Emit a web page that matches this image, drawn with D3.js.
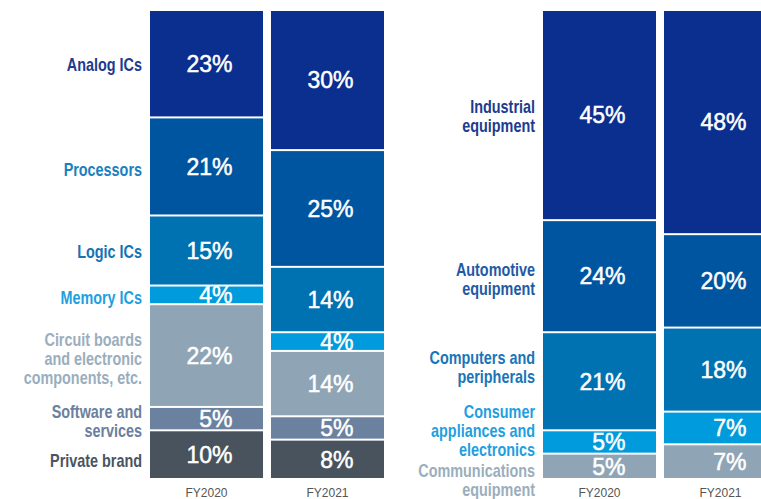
<!DOCTYPE html>
<html>
<head>
<meta charset="utf-8">
<script src="https://cdn.jsdelivr.net/npm/d3@7"></script>
<style>
    body { margin: 0; background: #fff; }
    svg { display: block; }
</style>
</head>
<body>
<svg id="chart" width="761" height="499"></svg>
<script>
// years on the x axis
var years = ["FY2020", "FY2021"];

// left chart: by product (top to bottom)
var productNames = ["Analog ICs", "Processors", "Logic ICs", "Memory ICs",
    "Circuit boards\nand electronic\ncomponents, etc.", "Software and\nservices", "Private brand"];
var productFY2020 = [23, 21, 15, 4, 22, 5, 10];
var productFY2021 = [30, 25, 14, 4, 14, 5, 8];

// right chart: by application (top to bottom)
var marketNames = ["Industrial\nequipment", "Automotive\nequipment", "Computers and\nperipherals",
    "Consumer\nappliances and\nelectronics", "Communications\nequipment"];
var marketFY2020 = [45, 24, 21, 5, 5];
var marketFY2021 = [48, 20, 18, 7, 7];

// colours
var productFill = ["#0b2f8e", "#0055a0", "#0072b2", "#009bdc", "#8fa5b6", "#6a81a0", "#48535e"];
var productText = ["#1d3b8f", "#1b7fc1", "#1673b5", "#1f9fe0", "#9aaebd", "#6b809e", "#4b555f"];
var marketFill = ["#0b2f8e", "#0055a0", "#0072b2", "#009bdc", "#8fa5b6"];
var marketText = ["#1d3b8f", "#1f5aa5", "#1a75b8", "#1f9fe0", "#9aaebd"];

// small vertical tweaks of the side labels so they do not collide (px)
var productNudge = [0, 2, 0, 2, 2, 1, 6];
var marketNudge = [0, 2, -15, -12, 14];

var svg = d3.select("#chart");
var plotTop = 11, plotBottom = 478;
var y = d3.scaleLinear().domain([0, 100]).range([plotBottom, plotTop]);

function drawPanel(id, names, v2020, v2021, fills, textCols, nudge, x0, x1, labelX) {
    var x = d3.scaleBand().domain(years).range([x0, x1]).paddingInner(0.066).paddingOuter(0);
    var g = svg.append("g").attr("class", id);

    // clip so the text of the lowest block does not spill under the bars
    g.append("clipPath").attr("id", "clip-" + id)
        .append("rect").attr("x", x0).attr("y", plotTop).attr("width", x1 - x0).attr("height", plotBottom - plotTop);

    // rows: one object per year, keys = category index
    var keys = names.map(function (d, i) { return "k" + i; });
    var rows = years.map(function (yr, j) {
        var r = {year: yr};
        var vals = j === 0 ? v2020 : v2021;
        keys.forEach(function (k, i) { r[k] = vals[i]; });
        return r;
    });
    // first category on top -> stack in reversed key order
    var series = d3.stack().keys(keys.slice().reverse())(rows);
    series.reverse();

    var bars = g.append("g").attr("clip-path", "url(#clip-" + id + ")");
    years.forEach(function (yr, j) {
        series.forEach(function (s, i) {
            var d = s[j];
            var yTop = y(d[1]), yBot = y(d[0]);
            var gap = i === series.length - 1 ? 0 : 2;
            bars.append("rect")
                .attr("x", x(yr))
                .attr("y", yTop)
                .attr("width", x.bandwidth())
                .attr("height", Math.max(0, yBot - yTop - gap))
                .attr("fill", fills[i]);
            bars.append("text")
                .attr("x", x(yr) + x.bandwidth() * 0.73)
                .attr("y", (yTop + yBot - gap) / 2)
                .attr("dy", "0.36em")
                .attr("text-anchor", "end")
                .attr("fill", "#fff")
                .attr("stroke", "#fff")
                .attr("stroke-width", 0.5)
                .style("font-family", "'Liberation Sans', Arial, sans-serif")
                .style("font-size", "23px")
                .text(d.data[s.key] + "%");
        });
    });

    // category labels, aligned on the FY2020 bar; squeezed to look condensed
    series.forEach(function (s, i) {
        var d = s[0];
        var cy = (y(d[1]) + y(d[0])) / 2 + nudge[i];
        var lines = names[i].split("\n");
        var t = g.append("text")
            .attr("transform", "translate(" + labelX + ",0) scale(0.8,1)")
            .attr("text-anchor", "end")
            .attr("fill", textCols[i])
            .style("font-family", "'Liberation Sans', Arial, sans-serif")
            .style("font-weight", "bold")
            .style("font-size", "18px");
        lines.forEach(function (ln, k) {
            t.append("tspan")
                .attr("x", 0)
                .attr("y", cy + (k - (lines.length - 1) / 2) * 19)
                .attr("dy", "0.36em")
                .text(ln);
        });
    });

    // year axis
    var axis = g.append("g")
        .attr("transform", "translate(0," + plotBottom + ")")
        .call(d3.axisBottom(x).tickSize(0).tickPadding(10));
    axis.select(".domain").remove();
    axis.selectAll("text")
        .attr("fill", "#555")
        .style("font-family", "'Liberation Sans', Arial, sans-serif")
        .style("font-size", "12px");
}

drawPanel("product", productNames, productFY2020, productFY2021, productFill, productText, productNudge, 150, 384, 142);
drawPanel("market", marketNames, marketFY2020, marketFY2021, marketFill, marketText, marketNudge, 543, 777, 535);
</script>
</body>
</html>
